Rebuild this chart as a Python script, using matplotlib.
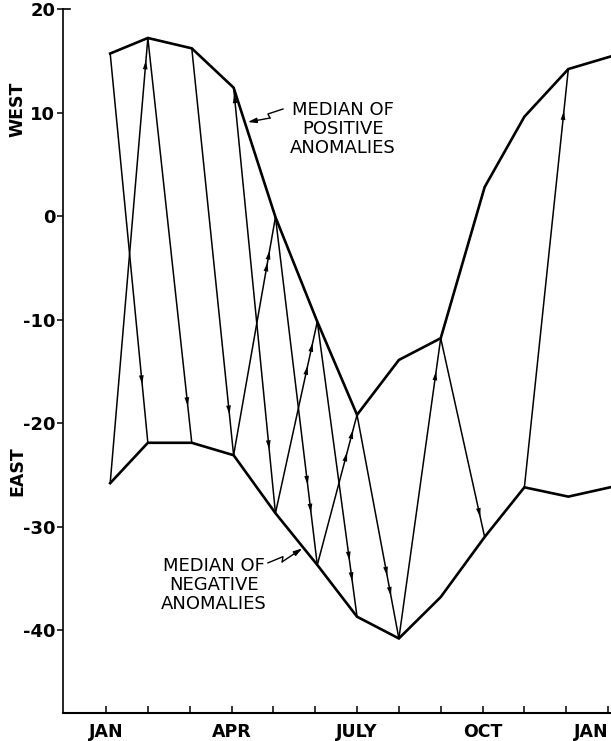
import matplotlib
matplotlib.use('Agg')
import matplotlib.pyplot as plt
from matplotlib.transforms import ScaledTranslation

plt.rcParams['font.family'] = ['DejaVu Sans']

# month positions (0 = JAN) and monthly medians
months = [0.1, 1.0, 2.05, 3.05, 4.05, 5.05, 6.0, 7.0, 8.0, 9.05, 10.0, 11.05, 12.05]
pos_median = [15.7, 17.2, 16.2, 12.4, -0.1, -10.2, -19.2, -13.9, -11.8, 2.8, 9.6, 14.2, 15.4]
neg_median = [-25.8, -21.9, -21.9, -23.1, -28.7, -33.7, -38.7, -40.8, -36.8, -31.0, -26.2, -27.1, -26.2]

# transitions: (from curve, month idx, to curve, month idx, arrow positions along the line)
transitions = [
    ('pos', 0, 'neg', 1, [0.85]),
    ('neg', 0, 'pos', 1, [0.95]),
    ('pos', 1, 'neg', 2, [0.91]),
    ('pos', 2, 'neg', 3, [0.90]),
    ('pos', 3, 'neg', 4, [0.85]),
    ('neg', 3, 'pos', 4, [0.81, 0.86]),
    ('pos', 4, 'neg', 5, [0.77, 0.85]),
    ('neg', 4, 'pos', 5, [0.77, 0.89]),
    ('pos', 5, 'neg', 6, [0.81, 0.88]),
    ('neg', 5, 'pos', 6, [0.75, 0.90]),
    ('pos', 6, 'neg', 7, [0.72, 0.81]),
    ('neg', 7, 'pos', 8, [0.89]),
    ('pos', 8, 'neg', 9, [0.90]),
    ('neg', 10, 'pos', 11, [0.90]),
]

tick_months = list(range(13))
tick_names = ['JAN', '', '', 'APR', '', '', 'JULY', '', '', 'OCT', '', '', 'JAN']
y_ticks = [20, 10, 0, -10, -20, -30, -40]

W, H = 611, 741
fig = plt.figure(figsize=(W / 100, H / 100), dpi=100)
ax = fig.add_axes([63 / W, 1 - 713 / H, (W - 63) / W, (713 - 9) / H])

curves = {'pos': pos_median, 'neg': neg_median}


def arrow_head(ax, p0, p1, frac):
    x0, y0 = p0
    x1, y1 = p1
    tip = (x0 + (x1 - x0) * frac, y0 + (y1 - y0) * frac)
    back = (x0 + (x1 - x0) * (frac - 0.05), y0 + (y1 - y0) * (frac - 0.05))
    ax.annotate('', xy=tip, xytext=back,
                arrowprops=dict(arrowstyle='-|>,head_length=0.65,head_width=0.17',
                                color='k', lw=0.01, shrinkA=0, shrinkB=0))


for a, i, b, j, fracs in transitions:
    p0 = (months[i], curves[a][i])
    p1 = (months[j], curves[b][j])
    ax.plot([p0[0], p1[0]], [p0[1], p1[1]], color='k', lw=1.1, solid_capstyle='round')
    for f in fracs:
        arrow_head(ax, p0, p1, f)

# small reversed head at the April maximum
arrow_head(ax, (months[4], neg_median[4]), (months[3], pos_median[3]), 0.985)

ax.plot(months, pos_median, color='k', lw=1.9, solid_joinstyle='miter', clip_on=False)
ax.plot(months, neg_median, color='k', lw=1.9, solid_joinstyle='miter', clip_on=False)

# labels with lightning leaders
ax.text(5.67, 8.4, 'MEDIAN OF\nPOSITIVE\nANOMALIES', ha='center', va='center',
        fontsize=13, linespacing=1.05)
ax.plot([4.23, 3.87, 3.92], [10.34, 9.86, 9.47], color='k', lw=1.0)
ax.annotate('', xy=(3.39, 9.08), xytext=(3.92, 9.47),
            arrowprops=dict(arrowstyle='-|>,head_length=0.5,head_width=0.15',
                            color='k', lw=1.0, shrinkA=0, shrinkB=0))

ax.text(2.58, -35.65, 'MEDIAN OF\nNEGATIVE\nANOMALIES', ha='center', va='center',
        fontsize=13, linespacing=1.05)
ax.plot([3.87, 4.23, 4.21], [-33.5, -32.9, -33.4], color='k', lw=1.0)
ax.annotate('', xy=(4.69, -32.1), xytext=(4.21, -33.4),
            arrowprops=dict(arrowstyle='-|>,head_length=0.5,head_width=0.15',
                            color='k', lw=1.0, shrinkA=0, shrinkB=0))

ax.set_xlim(-1.028, 12.07)
ax.set_ylim(-48, 20)
for s in ['top', 'right']:
    ax.spines[s].set_visible(False)
ax.spines['left'].set_linewidth(1.2)
ax.spines['bottom'].set_linewidth(1.5)

ax.set_xticks(tick_months)
ax.set_xticklabels(tick_names, fontsize=12.5, fontweight='bold')
ax.tick_params(axis='x', direction='in', length=5, width=1.1, pad=7)
ax.set_yticks(y_ticks)
ax.set_yticklabels([str(v) for v in y_ticks], fontsize=13, fontweight='bold')
ax.tick_params(axis='y', direction='out', length=4.5, width=1.1, pad=1)

# the last JAN label sits a little left of its tick, at the edge
last = ax.get_xticklabels()[-1]
last.set_transform(last.get_transform() + ScaledTranslation(-0.17, 0, fig.dpi_scale_trans))

# top bracket of the y axis
ax.plot([-1.028, -0.87], [20, 20], color='k', lw=1.2, clip_on=False)

fig.text(17 / W, 1 - 109 / H, 'WEST', rotation=90, ha='center', va='center',
         fontsize=12.5, fontweight='bold')
fig.text(17 / W, 1 - 471 / H, 'EAST', rotation=90, ha='center', va='center',
         fontsize=12.5, fontweight='bold')

fig.savefig('out.png', dpi=100)
